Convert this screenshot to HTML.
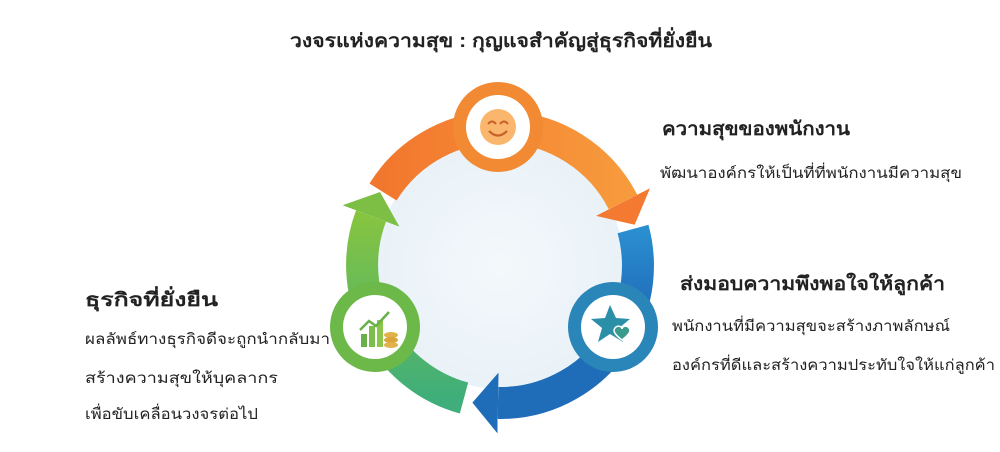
<!DOCTYPE html>
<html><head><meta charset="utf-8"><style>
html,body{margin:0;padding:0;background:#fff;}
svg{display:block;}
text{font-family:"Liberation Sans","Noto Sans CJK SC","WenQuanYi Zen Hei",sans-serif;fill:#222;}
.b{font-weight:bold;}
</style></head><body>
<svg width="1000" height="452" viewBox="0 0 1000 452" xmlns="http://www.w3.org/2000/svg">
<defs>
<linearGradient id="go" x1="0" y1="0" x2="1" y2="0"><stop offset="0" stop-color="#f2772e"/><stop offset="1" stop-color="#f79a3c"/></linearGradient>
<linearGradient id="gb" x1="0" y1="0" x2="0" y2="1"><stop offset="0" stop-color="#2a8fd0"/><stop offset="1" stop-color="#1e64b4"/></linearGradient>
<linearGradient id="gg" x1="0" y1="1" x2="0" y2="0"><stop offset="0" stop-color="#3fae7a"/><stop offset="1" stop-color="#86c440"/></linearGradient>
<radialGradient id="inner" cx="0.5" cy="0.5" r="0.5"><stop offset="0" stop-color="#f4f8fb"/><stop offset="1" stop-color="#e9f2f8"/></radialGradient>
<marker id="mo" viewBox="0 0 10 10" refX="0" refY="5" markerWidth="0.8" markerHeight="1.9" orient="auto" preserveAspectRatio="none"><path d="M0,0 L10,5 L0,10z" fill="#f37a30"/></marker>
<marker id="mb" viewBox="0 0 10 10" refX="0" refY="5" markerWidth="0.8" markerHeight="1.9" orient="auto" preserveAspectRatio="none"><path d="M0,0 L10,5 L0,10z" fill="#1f6cb8"/></marker>
<marker id="mg" viewBox="0 0 10 10" refX="0" refY="5" markerWidth="0.8" markerHeight="1.9" orient="auto" preserveAspectRatio="none"><path d="M0,0 L10,5 L0,10z" fill="#7dbf45"/></marker>
</defs>

<text x="290" y="47" class="b" font-size="19" textLength="422" lengthAdjust="spacingAndGlyphs">วงจรแห่งความสุข : กุญแจสำคัญสู่ธุรกิจที่ยั่งยืน</text>

<circle cx="500" cy="265" r="124" fill="url(#inner)"/>

<path d="M383,192 A138,138 0 0 1 623,202" fill="none" stroke="url(#go)" stroke-width="32" marker-end="url(#mo)"/>
<path d="M633,229 A138,138 0 0 1 621,332" fill="none" stroke="url(#gb)" stroke-width="32"/>
<path d="M621,332 A138,138 0 0 1 498,403" fill="none" stroke="#1f6cb8" stroke-width="32" marker-end="url(#mb)"/>
<path d="M464,398 A138,138 0 0 1 371,216" fill="none" stroke="url(#gg)" stroke-width="32" marker-end="url(#mg)"/>

<!-- top node -->
<circle cx="498" cy="127" r="45" fill="#f28a34"/>
<circle cx="498" cy="127" r="32" fill="#fff"/>
<circle cx="498" cy="127" r="18" fill="#f9b66c"/>
<path d="M488,124 q4,-5 8,0 M500,124 q4,-5 8,0" stroke="#c8602a" stroke-width="2" fill="none"/>
<path d="M489,131 q9,9 18,0" stroke="#c8602a" stroke-width="2.2" fill="none"/>

<!-- right node -->
<circle cx="613" cy="327" r="45" fill="#2a86b8"/>
<circle cx="613" cy="327" r="32" fill="#fff"/>
<path d="M610,305 l6,13 14,1 -11,9 4,14 -13,-8 -12,8 4,-14 -11,-9 14,-1z" fill="#2b8fa8"/>
<path d="M622,340 c-8,-6 -10,-10 -6,-13 3,-2 6,0 6,2 0,-2 3,-4 6,-2 4,3 2,7 -6,13z" fill="#3a9a8c" stroke="#fff" stroke-width="1.5"/>

<!-- left node -->
<circle cx="375" cy="327" r="45" fill="#6cb848"/>
<circle cx="375" cy="327" r="32" fill="#fff"/>
<rect x="361" y="334" width="6" height="13" fill="#6ab04a"/>
<rect x="369" y="326" width="6" height="21" fill="#7bbf4a"/>
<rect x="377" y="320" width="6" height="27" fill="#8cc54a"/>
<path d="M360,330 l9,-9 7,5 13,-14" stroke="#6ab04a" stroke-width="2.5" fill="none"/>
<ellipse cx="391" cy="335" rx="7" ry="3" fill="#e2b24a"/>
<ellipse cx="391" cy="340" rx="7" ry="3" fill="#d9a53c"/>
<ellipse cx="391" cy="345" rx="7" ry="3" fill="#e2b24a"/>

<text x="662" y="135" class="b" font-size="19" textLength="188" lengthAdjust="spacingAndGlyphs">ความสุขของพนักงาน</text>
<text x="660" y="178" font-size="15" textLength="302" lengthAdjust="spacingAndGlyphs">พัฒนาองค์กรให้เป็นที่ที่พนักงานมีความสุข</text>
<text x="680" y="290" class="b" font-size="19" textLength="265" lengthAdjust="spacingAndGlyphs">ส่งมอบความพึงพอใจให้ลูกค้า</text>
<text x="672" y="331" font-size="15" textLength="278" lengthAdjust="spacingAndGlyphs">พนักงานที่มีความสุขจะสร้างภาพลักษณ์</text>
<text x="672" y="370" font-size="15" textLength="323" lengthAdjust="spacingAndGlyphs">องค์กรที่ดีและสร้างความประทับใจให้แก่ลูกค้า</text>

<text x="85" y="306" class="b" font-size="19" textLength="133" lengthAdjust="spacingAndGlyphs">ธุรกิจที่ยั่งยืน</text>
<text x="85" y="344" font-size="15" textLength="245" lengthAdjust="spacingAndGlyphs">ผลลัพธ์ทางธุรกิจดีจะถูกนำกลับมา</text>
<text x="85" y="383" font-size="15" textLength="193" lengthAdjust="spacingAndGlyphs">สร้างความสุขให้บุคลากร</text>
<text x="85" y="419" font-size="15" textLength="173" lengthAdjust="spacingAndGlyphs">เพื่อขับเคลื่อนวงจรต่อไป</text>
</svg>
</body></html>
